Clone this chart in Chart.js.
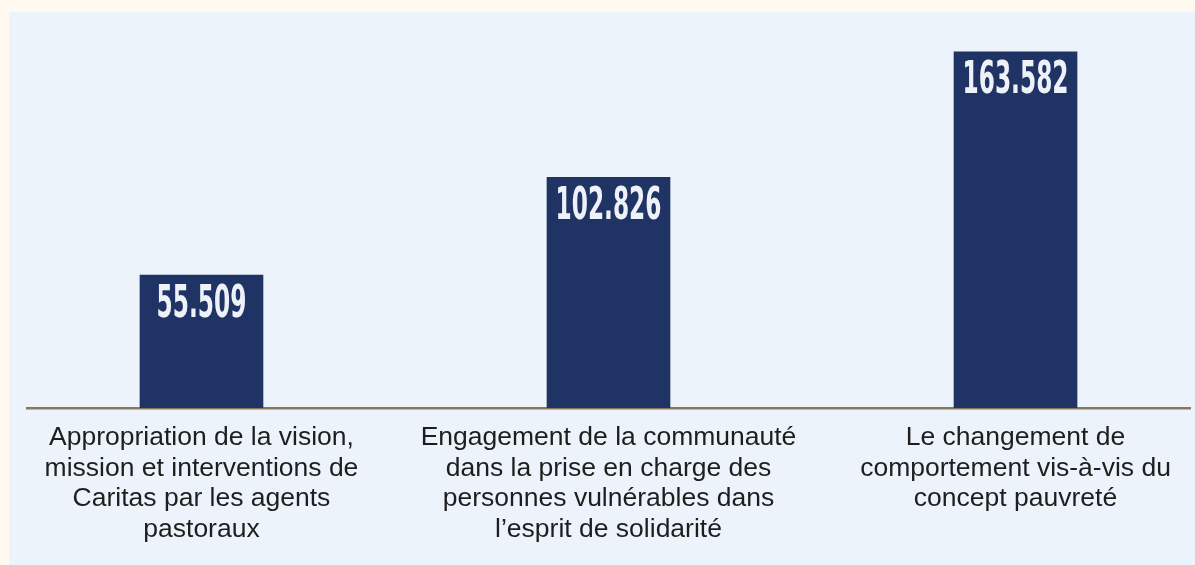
<!DOCTYPE html>
<html>
<head>
<meta charset="utf-8">
<script src="https://cdn.jsdelivr.net/npm/chart.js@4"></script>
<style>
  html, body { margin: 0; padding: 0; background: #FFF9EF; width: 1195px; height: 565px; overflow: hidden; }
  #panel { position: absolute; left: 9px; top: 12px; width: 1186px; height: 553px; background: #ECF3FA; }
  canvas { display: block; }
</style>
</head>
<body>
<div id="panel"><canvas id="c" width="1186" height="553"></canvas></div>
<script>
const categories = [
  ["Appropriation de la vision,", "mission et interventions de", "Caritas par les agents", "pastoraux"],
  ["Engagement de la communauté", "dans la prise en charge des", "personnes vulnérables dans", "l’esprit de solidarité"],
  ["Le changement de", "comportement vis-à-vis du", "concept pauvreté"]
];
const values = [55.509, 102.826, 163.582];

const valueLabels = {
  id: 'valueLabels',
  afterDatasetsDraw(chart) {
    const ctx = chart.ctx;
    const meta = chart.getDatasetMeta(0);
    meta.data.forEach((bar, i) => {
      ctx.save();
      ctx.fillStyle = '#EEF2F8';
      ctx.font = 'bold 44px "DejaVu Sans Condensed", "Liberation Sans", sans-serif';
      ctx.textAlign = 'center';
      ctx.textBaseline = 'middle';
      const sx = 16.2 / ctx.measureText('0').width;
      ctx.translate(bar.x, bar.y + 30);
      ctx.scale(sx, 1);
      ctx.fillText(values[i].toFixed(3), 0, 0);
      ctx.restore();
    });
  }
};

new Chart(document.getElementById('c'), {
  type: 'bar',
  data: {
    datasets: [{
      data: values.map((v, i) => ({ x: i, y: v })),
      backgroundColor: '#1F3364',
      borderWidth: 0,
      barThickness: 123,
      base: -8.8
    }]
  },
  options: {
    responsive: false,
    animation: false,
    devicePixelRatio: 1,
    layout: { padding: { left: 18, right: 5, top: 10, bottom: 0 } },
    plugins: { legend: { display: false }, tooltip: { enabled: false } },
    scales: {
      x: {
        type: 'linear',
        offset: false,
        min: -0.4287,
        max: 2.4287,
        grid: { display: false, drawTicks: false, offset: false },
        border: { display: true, color: '#8C765F', width: 2.5 },
        afterBuildTicks: (scale) => { scale.ticks = categories.map((_, i) => ({ value: i })); },
        afterFit: (scale) => { scale.height = 157; },
        ticks: {
          autoSkip: false,
          maxRotation: 0,
          minRotation: 0,
          padding: 15,
          color: '#1E1E1E',
          font: { family: '"Liberation Sans", Arial, sans-serif', size: 26.5, lineHeight: 1.145 },
          callback: (value) => categories[value]
        }
      },
      y: {
        display: false,
        min: -8.8,
        max: 178
      }
    }
  },
  plugins: [valueLabels]
});
</script>
</body>
</html>
